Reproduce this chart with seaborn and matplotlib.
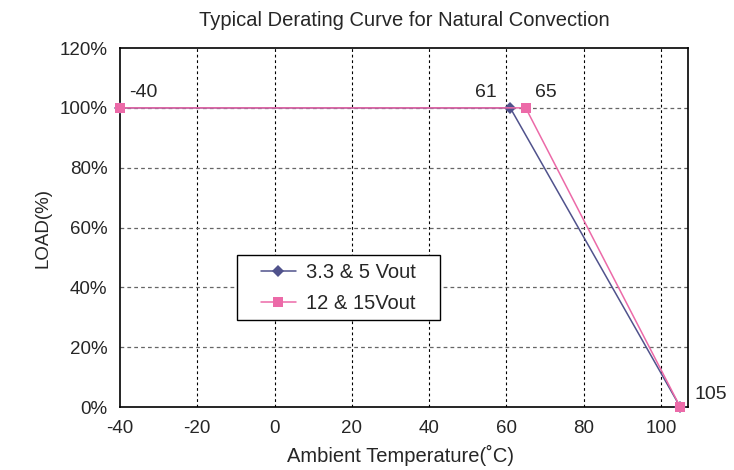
import matplotlib
matplotlib.use("Agg")
import matplotlib.pyplot as plt
import seaborn as sns
import pandas as pd
from matplotlib.patches import Rectangle
from matplotlib.ticker import FuncFormatter

# 数据
temp_low = [-40, 61, 105]
load_low = [100, 100, 0]
temp_high = [-40, 65, 105]
load_high = [100, 100, 0]
series_names = ["3.3 & 5 Vout", "12 & 15Vout"]
x_ticks = [-40, -20, 0, 20, 40, 60, 80, 100]
y_ticks = [0, 20, 40, 60, 80, 100, 120]

data = pd.concat([
    pd.DataFrame({"temp": temp_low, "load": load_low, "series": series_names[0]}),
    pd.DataFrame({"temp": temp_high, "load": load_high, "series": series_names[1]}),
])

sns.set_style("white")
plt.rcParams["font.family"] = ["Liberation Sans", "DejaVu Sans"]
plt.rcParams["axes.unicode_minus"] = False

colors = {series_names[0]: "#50528C", series_names[1]: "#EC6AA8"}
markers = {series_names[0]: "D", series_names[1]: "s"}

fig = plt.figure(figsize=(7.34, 4.70), dpi=100)
ax = fig.add_axes([0.1635, 0.134, 0.7738, 0.7638])

sns.lineplot(data=data, x="temp", y="load", hue="series", style="series",
             palette=colors, markers=markers, dashes=False, sort=False,
             markersize=6.5, linewidth=1.1, markeredgewidth=0, ax=ax,
             clip_on=False, zorder=5)

ax.set_xlim(-40, 107)
ax.set_ylim(0, 120)
ax.set_xticks(x_ticks)
ax.set_yticks(y_ticks)
ax.yaxis.set_major_formatter(FuncFormatter(lambda v, p: f"{int(v)}%"))
ax.tick_params(axis="both", labelsize=13.5, length=0, pad=9)

ax.grid(False)
for x in x_ticks[1:]:
    ax.axvline(x, color="black", linestyle=(0, (2.5, 2.5)), linewidth=0.8, zorder=0)
for y in y_ticks[1:-1]:
    ax.axhline(y, color="#666666", linestyle=(0, (3, 2.5)), linewidth=0.9, zorder=0)

for side in ax.spines.values():
    side.set_color("black")
    side.set_linewidth(1.2)

# 数据标签
lab = dict(fontsize=14, textcoords="offset pixels", va="center", annotation_clip=False)
ax.annotate("-40", (temp_low[0], load_low[0]), xytext=(9, 15), ha="left", **lab)
ax.annotate("61", (temp_low[1], load_low[1]), xytext=(-13, 15), ha="right", **lab)
ax.annotate("65", (temp_high[1], load_high[1]), xytext=(9, 15), ha="left", **lab)
ax.annotate("105", (temp_high[2], load_high[2]), xytext=(14, 13), ha="left", **lab)

ax.set_xlabel("Ambient Temperature(˚C)", fontsize=14.5)
ax.xaxis.set_label_coords(0.494, -0.106)
ax.set_ylabel("LOAD(%)", fontsize=13.5)
ax.yaxis.set_label_coords(-0.12, 0.5)
ax.text(0.5, 1.0613, "Typical Derating Curve for Natural Convection",
        transform=ax.transAxes, ha="center", va="baseline", fontsize=14.5)

# 图例框 + 居中的图例
box = (0.206, 0.242, 0.357, 0.181)
ax.add_patch(Rectangle(box[:2], box[2], box[3], transform=ax.transAxes,
                       facecolor="white", edgecolor="black", linewidth=1.0, zorder=6))
leg = ax.legend(loc="center", bbox_to_anchor=(box[0] + box[2] / 2, box[1] + box[3] / 2),
                fontsize=14.5, frameon=False, handlelength=1.7, handletextpad=0.5,
                borderpad=0.2, labelspacing=0.6)
leg.set_zorder(7)
for h in leg.legend_handles:
    h.set_markersize(6.5)

fig.savefig("out.png", dpi=100)
